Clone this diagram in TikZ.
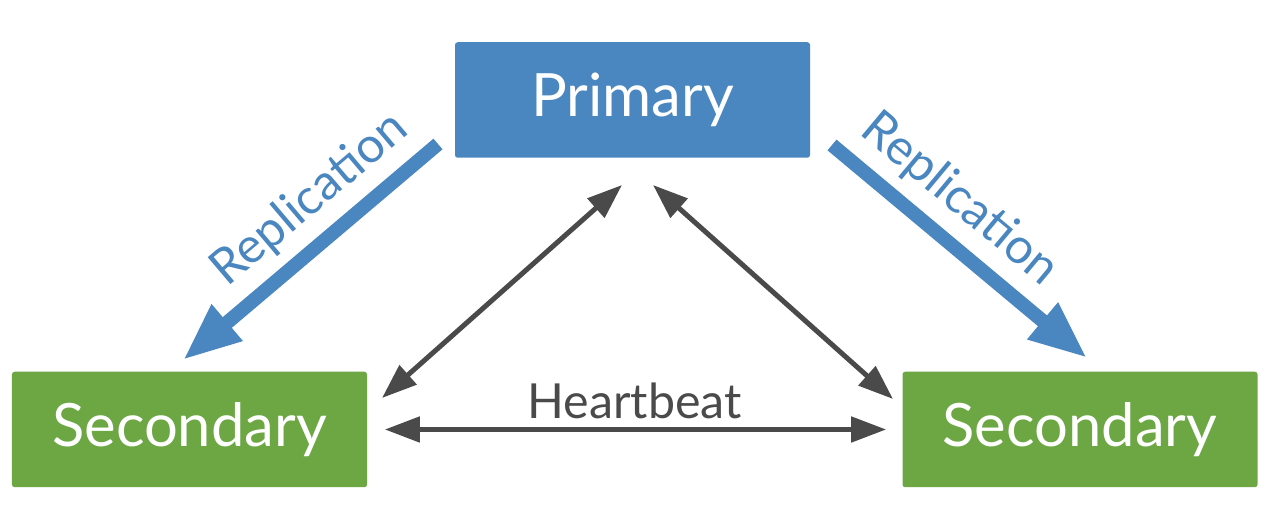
\documentclass[tikz,border=0pt]{standalone}
\usepackage{fontspec}
\setmainfont{Lato}
\usepackage{tikz}
\usetikzlibrary{arrows.meta}
\usetikzlibrary{positioning}

\definecolor{primblue}{HTML}{4A86C0}
\definecolor{secgreen}{HTML}{6CA743}
\definecolor{beatgray}{HTML}{4A4A4A}

\begin{document}
\begin{tikzpicture}
	\useasboundingbox (0,0) rectangle (25.6,10.4);
	\begin{scope}[every node/.style={rectangle, rounded corners=1.5pt, text=white,
	              minimum width=7.1cm, minimum height=2.31cm, font=\fontsize{34}{40}\selectfont}]
	    	\node[fill=primblue] (prim) at (12.65,8.40) {Primary};
	    	\node[fill=secgreen] (secl) at (3.79,1.81)  {Secondary};
	    	\node[fill=secgreen] (secr) at (21.60,1.81) {Secondary};
	\end{scope}
	% arrow ends
	\coordinate (repl1) at (8.76,7.52);
	\coordinate (repl2) at (3.66,3.20);
	\coordinate (repr1) at (16.64,7.50);
	\coordinate (repr2) at (21.74,3.24);
	\coordinate (hbl1) at (12.44,6.70);
	\coordinate (hbl2) at (7.64,2.44);
	\coordinate (hbr1) at (13.06,6.70);
	\coordinate (hbr2) at (17.86,2.42);
	\begin{scope}[line width=0.28cm, draw=primblue, text=primblue,
	              -{Triangle[length=1.16cm, width=0.88cm]},
	              every node/.style={font=\fontsize{28}{33}\selectfont}]
		\draw (repl1) -- node[sloped, above=0.1cm, pos=0.4] {Replication} (repl2);
		\draw (repr1) -- node[sloped, above=0.1cm, pos=0.4] {Replication} (repr2);
	\end{scope}
	\begin{scope}[line width=0.1cm, draw=beatgray,
	              {Triangle[length=0.7cm, width=0.5cm]}-{Triangle[length=0.7cm, width=0.5cm]}]
		\draw (hbl1) -- (hbl2);
		\draw (hbr1) -- (hbr2);
		\draw[shorten <=0.35cm, shorten >=0.32cm] (secl) -- node[above=0.04cm, text=beatgray,
		      font=\fontsize{27.5}{32}\selectfont] {Heartbeat} (secr);
	\end{scope}
\end{tikzpicture}
\end{document}
